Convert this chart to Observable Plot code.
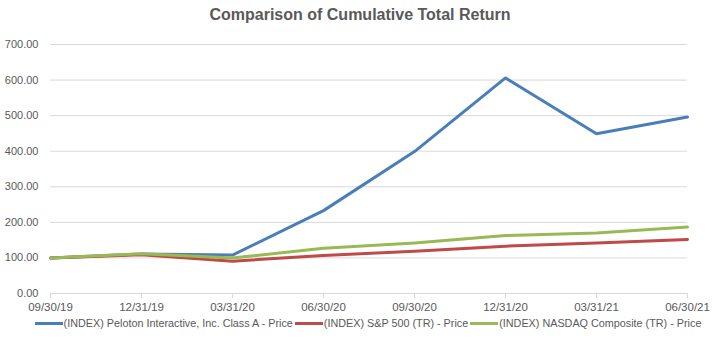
<!DOCTYPE html>
<html>
<head>
<meta charset="utf-8">
<script src="https://cdn.jsdelivr.net/npm/d3@7"></script>
<script src="https://cdn.jsdelivr.net/npm/@observablehq/plot@0.6"></script>
<style>
  body { margin: 0; background: #fff; }
  #wrap { position: relative; width: 720px; height: 353px; overflow: hidden; font-family: "Liberation Sans", Arial, sans-serif; }
  #title { position: absolute; top: 6px; left: 0; width: 720px; text-align: center; font-size: 16px; font-weight: bold; color: #595959; }
  #chart { position: absolute; top: 0; left: 0; }
  #legend { position: absolute; top: 317px; left: 8px; width: 720px; display: flex; justify-content: center; align-items: center; font-size: 10.8px; color: #595959; white-space: nowrap; }
  .item { display: flex; align-items: center; margin: 0 1px; }
  .sw { width: 28px; height: 3px; margin-right: 1px; }
</style>
</head>
<body>
<div id="wrap">
  <div id="title">Comparison of Cumulative Total Return</div>
  <div id="chart"></div>
  <div id="legend"></div>
</div>
<script>
const dates = ["09/30/19","12/31/19","03/31/20","06/30/20","09/30/20","12/31/20","03/31/21","06/30/21"];
const seriesNames = [
  "(INDEX) Peloton Interactive, Inc. Class A - Price",
  "(INDEX) S&P 500 (TR) - Price",
  "(INDEX) NASDAQ Composite (TR) - Price"
];
const peloton = [100, 111, 108, 233, 399, 606, 449, 496];
const sp500   = [100, 109, 91, 107, 119, 133, 142, 152];
const nasdaq  = [100, 112, 100, 127, 142, 163, 170, 187];
const colors = ["#4A7EBB", "#BE4B48", "#98B954"];
const yTicks = [0, 100, 200, 300, 400, 500, 600, 700];

const values = [peloton, sp500, nasdaq];
const data = [];
seriesNames.forEach((s, i) => dates.forEach((d, j) => data.push({series: s, date: d, value: values[i][j]})));

const plot = Plot.plot({
  width: 720,
  height: 314,
  marginTop: 44,
  marginBottom: 21,
  marginLeft: 50,
  marginRight: 33,
  style: { fontFamily: "Liberation Sans, Arial, sans-serif", fontSize: "11px", color: "#595959", background: "transparent" },
  x: { type: "point", domain: dates, padding: 0, label: null },
  y: { domain: [0, 700], label: null },
  color: { domain: seriesNames, range: colors },
  marks: [
    Plot.gridY(yTicks, { stroke: "#D9D9D9", strokeOpacity: 1, strokeWidth: 1 }),
    Plot.ruleY([0], { stroke: "#D9D9D9", strokeWidth: 1 }),
    Plot.axisY(yTicks, { tickFormat: d3.format(".2f"), tickSize: 0, tickPadding: 12, fill: "#595959", label: null }),
    Plot.axisX(dates, { tickSize: 5, tickPadding: 4, stroke: "#D9D9D9", fill: "#595959", fontSize: 11.5, label: null }),
    Plot.line(data, { x: "date", y: "value", z: "series", stroke: "series", strokeWidth: 3, strokeLinejoin: "round", strokeLinecap: "round" })
  ]
});
document.getElementById("chart").appendChild(plot);

const legend = document.getElementById("legend");
seriesNames.forEach((s, i) => {
  const it = document.createElement("div");
  it.className = "item";
  const sw = document.createElement("div");
  sw.className = "sw";
  sw.style.background = colors[i];
  const t = document.createElement("span");
  t.textContent = s;
  it.appendChild(sw);
  it.appendChild(t);
  legend.appendChild(it);
});
</script>
</body>
</html>
